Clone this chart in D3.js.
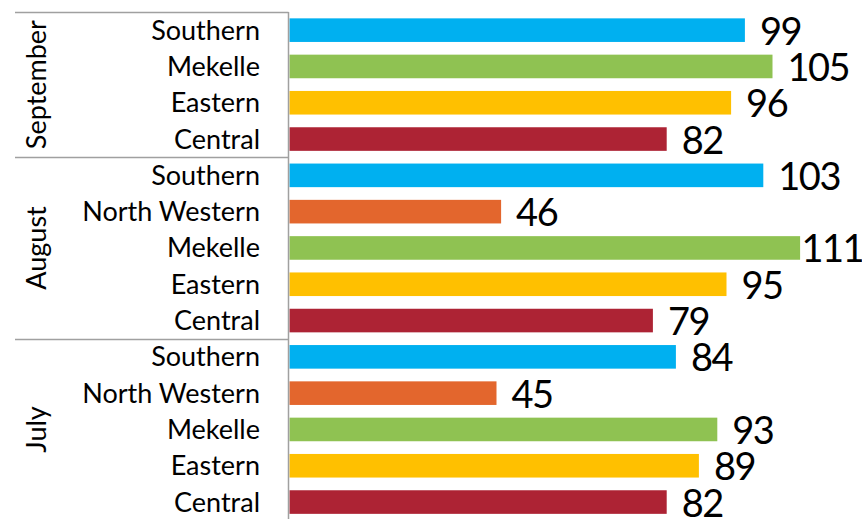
<!DOCTYPE html>
<html>
<head>
<meta charset="utf-8">
<script src="https://cdn.jsdelivr.net/npm/d3@7"></script>
<style>
  html, body { margin: 0; padding: 0; background: #fff; }
  svg { display: block; }
  text { font-family: Lato, "Open Sans", sans-serif; fill: #000; }
</style>
</head>
<body>
<script>
// Monthly figures per zone, listed top to bottom as drawn
const months = ["September", "August", "July"];
const zonesByMonth = [
  ["Southern", "Mekelle", "Eastern", "Central"],
  ["Southern", "North Western", "Mekelle", "Eastern", "Central"],
  ["Southern", "North Western", "Mekelle", "Eastern", "Central"]
];
const valuesByMonth = [
  [99, 105, 96, 82],
  [103, 46, 111, 95, 79],
  [84, 45, 93, 89, 82]
];
const zoneColors = {
  "Southern": "#00B0F0",
  "North Western": "#E3662D",
  "Mekelle": "#8FC252",
  "Eastern": "#FFC000",
  "Central": "#AD2334"
};
const xDomain = [0, 120];

const W = 862, H = 519;
const plotTop = 12, rowStep = 36.3;

// flatten into rows
const rows = [];
months.forEach((m, mi) => {
  zonesByMonth[mi].forEach((z, zi) => {
    rows.push({ id: m + "|" + z, month: m, zone: z, value: valuesByMonth[mi][zi] });
  });
});

const svg = d3.select("body").append("svg").attr("width", W).attr("height", H);

const y = d3.scaleBand()
  .domain(rows.map(d => d.id))
  .range([plotTop, plotTop + rows.length * rowStep])
  .paddingInner(0.35)
  .paddingOuter(0.175);

const x = d3.scaleLinear().domain(xDomain).range([289.5, 289.5 + 120 * 4.6]);

// bars
svg.append("g").selectAll("rect").data(rows).join("rect")
  .attr("x", x(0))
  .attr("y", d => y(d.id))
  .attr("width", d => x(d.value) - x(0))
  .attr("height", y.bandwidth())
  .attr("fill", d => zoneColors[d.zone]);

// value labels, pulled back inside the right edge when they would overflow
svg.append("g").selectAll("text").data(rows).join("text")
  .attr("font-size", 38)
  .attr("letter-spacing", -1.5)
  .attr("y", d => y(d.id) + y.bandwidth() / 2 + 14.5)
  .text(d => d.value)
  .each(function (d) {
    const w = this.getComputedTextLength();
    const px = Math.min(x(d.value) + 15, W - w + 1);
    d3.select(this).attr("x", px);
  });

// category labels
svg.append("g").selectAll("text").data(rows).join("text")
  .attr("font-size", 27)
  .attr("text-anchor", "end")
  .attr("x", 260)
  .attr("y", d => y(d.id) + y.bandwidth() / 2 + 9.5)
  .text(d => d.zone);

// group separators and month labels
const step = y.step();
const axisColor = "#A0A0A0";
let start = 0;
months.forEach((m, mi) => {
  const n = zonesByMonth[mi].length;
  const y0 = plotTop + start * step;
  const y1 = plotTop + (start + n) * step;
  svg.append("line")
    .attr("x1", 15).attr("x2", 288.5)
    .attr("y1", Math.round(y0) + 0.5).attr("y2", Math.round(y0) + 0.5)
    .attr("stroke", axisColor).attr("stroke-width", 1.5);
  const cy = (y0 + y1) / 2;
  svg.append("text")
    .attr("font-size", 27)
    .attr("text-anchor", "middle")
    .attr("transform", `translate(46,${cy}) rotate(-90)`)
    .text(m);
  start += n;
});

// vertical axis line
svg.append("line")
  .attr("x1", 288.5).attr("x2", 288.5)
  .attr("y1", plotTop).attr("y2", H)
  .attr("stroke", axisColor).attr("stroke-width", 1.5);
</script>
</body>
</html>
